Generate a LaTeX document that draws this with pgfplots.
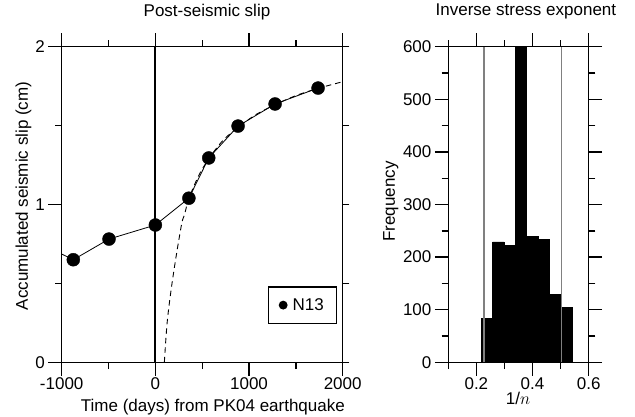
\documentclass[border=0pt]{standalone}
\usepackage{pgfplots}
\pgfplotsset{compat=1.18}
\usepackage{fontspec}
\setmainfont{Liberation Sans}
\begin{document}
\begin{tikzpicture}[font=\fontsize{17}{20}\selectfont]
\useasboundingbox (0pt,0pt) rectangle (635pt,416pt);
\pgfplotsset{
  myax/.style={
    scale only axis, anchor=south west,
    axis line style={line width=1.4pt},
    every tick/.append style={line width=1.4pt, black},
    every minor tick/.append style={line width=1.4pt, black},
    tick align=outside,
    major tick length=13.5pt, minor tick length=6.7pt,
    xticklabel style={anchor=base, inner sep=0pt, yshift=-14pt},
    yticklabel style={anchor=east, inner sep=0pt, xshift=-3.2pt},
  }
}
% ---------------- left panel ----------------
\begin{axis}[myax, at={(61.7pt,53.7pt)}, width=281pt, height=315.6pt,
  xmin=-1000, xmax=2000, ymin=0, ymax=2,
  xtick={-1000,0,1000,2000}, xticklabels={-1000,0,1000,2000},
  minor xtick={-500,500,1500},
  ytick={0,1,2}, yticklabels={0,1,2}, minor ytick={0.5,1.5},
  ytick pos=left,
  title={Post-seismic slip},
  title style={at={(axis description cs:0.517,1)}, anchor=base, yshift=24pt, inner sep=0pt},
  xlabel={Time (days) from PK04 earthquake},
  xlabel style={at={(axis description cs:0.538,0)}, anchor=base, yshift=-49.4pt, inner sep=0pt},
  ylabel={Accumulated seismic slip (cm)},
  ylabel style={at={(axis description cs:-0.12,0.527)}, anchor=base, inner sep=0pt},
  legend style={at={(axis description cs:0.981,0.122)}, anchor=south east, draw=black, line width=1.2pt,
    inner xsep=10pt, inner ysep=8pt, column sep=2pt, legend cell align=left,
    nodes={inner xsep=3pt, inner ysep=3.4pt}},
]
\addplot[black, line width=0.8pt, forget plot] coordinates {(-1000,0.686) (-876,0.650) (-495,0.781) (0,0.870) (358,1.040) (570,1.295) (883,1.497) (1278,1.637) (1737,1.738)};
\addplot[black, line width=0.9pt, dash pattern=on 5.5pt off 4pt, smooth, forget plot] coordinates {
(96,0) (125,0.247) (168,0.459) (221,0.669) (282,0.881) (310,0.933) (338,1.000) (358,1.040) (460,1.180) (570,1.290) (720,1.405) (883,1.490) (1080,1.572) (1278,1.632) (1500,1.690) (1737,1.736) (2000,1.778)};
\addplot[only marks, mark=*, mark size=6.5pt, black,
  legend image code/.code={\fill[black] (3.8pt,0pt) circle (3.8pt);}]
  coordinates {(-876,0.650) (-495,0.781) (0,0.870) (358,1.040) (570,1.295) (883,1.497) (1278,1.637) (1737,1.738)};
\addlegendentry{N13\hspace{3pt}}
\draw[black, line width=2pt] (axis cs:0,0) -- (axis cs:0,2);
\end{axis}
% right-side short ticks of left panel
\begin{axis}[myax, at={(61.7pt,53.7pt)}, width=281pt, height=315.6pt,
  xmin=-1000, xmax=2000, ymin=0, ymax=2,
  xtick=\empty, ytick={0,0.5,1,1.5,2}, yticklabels={}, ytick pos=right,
  major tick length=6.7pt]
\end{axis}
% ---------------- right panel ----------------
\begin{axis}[myax, at={(448.3pt,53.7pt)}, width=140.4pt, height=315.6pt,
  xmin=0.1, xmax=0.6, ymin=0, ymax=600,
  xtick={0.2,0.4,0.6}, xticklabels={0.2,0.4,0.6}, minor xtick={0.1,0.3,0.5},
  ytick={0,100,200,300,400,500,600}, yticklabels={0,100,200,300,400,500,600},
  minor ytick={50,150,250,350,450,550},
  title={Inverse stress exponent},
  title style={at={(axis description cs:0.553,1)}, anchor=base, yshift=25pt, inner sep=0pt},
  xlabel={1/$n$},
  xlabel style={at={(axis description cs:0.497,0)}, anchor=base, yshift=-42.5pt, inner sep=0pt},
  ylabel={Frequency},
  ylabel style={at={(axis description cs:-0.38,0.51)}, anchor=base, inner sep=0pt},
]
\addplot[ybar interval, fill=black, draw=black, line width=0.3pt] coordinates {
(0.217,83) (0.2575,229) (0.298,222) (0.338,650) (0.378,240) (0.419,234) (0.459,129) (0.4995,104) (0.540,104)};
\addplot[gray, line width=1.2pt] coordinates {(0.227,0) (0.227,600)};
\addplot[gray, line width=1.2pt] coordinates {(0.503,0) (0.503,600)};
\end{axis}
\end{tikzpicture}
\end{document}
